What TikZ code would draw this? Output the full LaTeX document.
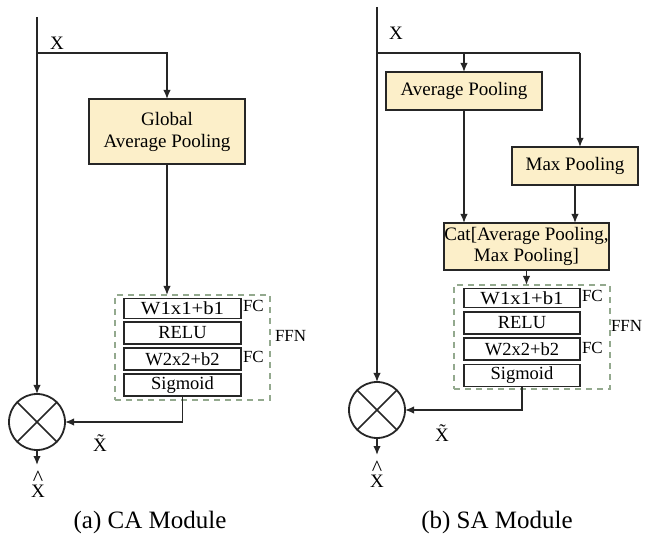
\documentclass[tikz,border=0pt]{standalone}
\usepackage{fontspec}
\setmainfont{Liberation Serif}
\usetikzlibrary{arrows.meta,calc}
\definecolor{boxfill}{HTML}{FCEFC9}
\definecolor{ffngreen}{HTML}{93A98E}
\tikzset{
  every node/.style={inner sep=0pt, outer sep=0pt},
  line/.style={line width=1.5pt, draw=black!85},
  arr/.style={line, -{Latex[length=9pt,width=7.5pt]}},
  poolbox/.style={draw=black!85, line width=1.8pt, fill=boxfill, font=\fontsize{19}{22}\selectfont, align=center},
  layerbox/.style={draw=black!85, line width=1.8pt, fill=white, font=\fontsize{18.5}{20}\selectfont},
  ffnbox/.style={draw=ffngreen, line width=1.4pt, dash pattern=on 6pt off 5pt},
  sidelabel/.style={font=\fontsize{17}{19}\selectfont, anchor=west},
  varlabel/.style={font=\fontsize{19}{21}\selectfont},
  hatx/.style={font=\fontsize{19}{21}\selectfont, anchor=base, text height=12.5pt, text depth=0pt},
  caretlabel/.style={font=\fontsize{22}{22}\selectfont, anchor=base, text height=7pt, text depth=0pt},
  caption/.style={font=\fontsize{25}{28}\selectfont},
  mult/.style={circle, draw=black!85, line width=1.8pt, minimum size=56pt}
}
\newcommand{\caretglyph}{\raisebox{-7.5pt}{\char"005E}}
\begin{document}
\begin{tikzpicture}[x=1pt,y=-1pt]
\useasboundingbox (0,0) rectangle (646,548);
% ---------------- (a) CA Module ----------------
\coordinate (atop) at (37,17);
\coordinate (abr) at (37,53);
\node[mult] (amul) at (37,422) {};
\draw[line] (amul.45) -- (amul.225);
\draw[line] (amul.135) -- (amul.315);
\node[poolbox, minimum width=156pt, minimum height=65pt] (gap) at (167,131.5) {Global\\Average Pooling};
\node[ffnbox, minimum width=155pt, minimum height=105pt] (affn) at (192.5,347.5) {};
\node[layerbox, minimum width=117pt, minimum height=20pt] (aw1) at (182.5,308.5) {\scalebox{1.12}[1]{W1x1+b1}};
\node[layerbox, minimum width=117pt, minimum height=22pt] (arelu) at (182.5,333) {RELU};
\node[layerbox, minimum width=117pt, minimum height=22pt] (aw2) at (182.5,359) {W2x2+b2};
\node[layerbox, minimum width=117pt, minimum height=22pt] (asig) at (182.5,385) {Sigmoid};
\node[sidelabel] (afc1) at (243,306) {FC};
\node[sidelabel] (afc2) at (243,357) {FC};
\node[sidelabel] (affnl) at (275,336) {FFN};
\draw[arr] (atop) -- (amul.north);
\draw[arr] (abr) -| (gap.north);
\draw[arr] (gap.south) -- (gap.south |- affn.north);
\draw[arr] (asig.south) |- (amul.east);
\coordinate (aout) at (37,465);
\draw[arr] (amul.south) -- (aout);
\node[varlabel] (ax) at (57,43) {X};
\node[varlabel] (axt) at (100,443) {\~{X}};
\node[caretlabel] (axc) at (38,478) {\caretglyph};
\node[hatx] (axh) at (38,497) {X};
\node[caption] (acap) at (150,522) {(a) CA Module};
% ---------------- (b) SA Module ----------------
\coordinate (btop) at (377,7);
\coordinate (bbr) at (377,53);
\coordinate (bcorner) at (580,53);
\node[mult] (bmul) at (377,410) {};
\draw[line] (bmul.45) -- (bmul.225);
\draw[line] (bmul.135) -- (bmul.315);
\node[poolbox, minimum width=156pt, minimum height=38pt] (avgp) at (464,91) {Average Pooling};
\node[poolbox, minimum width=126pt, minimum height=38pt] (maxp) at (575,166) {Max Pooling};
\node[poolbox, minimum width=165pt, minimum height=47pt, font=\fontsize{19}{21}\selectfont] (cat) at (526.5,246.5) {Cat[Average Pooling,\\Max Pooling]};
\node[ffnbox, minimum width=156pt, minimum height=104pt] (bffn) at (532,337) {};
\node[layerbox, minimum width=116pt, minimum height=19pt] (bw1) at (522,298) {\scalebox{1.12}[1]{W1x1+b1}};
\node[layerbox, minimum width=116pt, minimum height=22pt] (brelu) at (522,323) {RELU};
\node[layerbox, minimum width=116pt, minimum height=22pt] (bw2) at (522,349) {W2x2+b2};
\node[layerbox, minimum width=116pt, minimum height=22pt] (bsig) at (522,375.5) {Sigmoid};
\node[sidelabel] (bfc1) at (582,296) {FC};
\node[sidelabel] (bfc2) at (582,348) {FC};
\node[sidelabel] (bffnl) at (611,326) {FFN};
\draw[arr] (btop) -- (bmul.north);
\draw[line] (bbr) -- (bcorner);
\draw[arr] (avgp.north |- bbr) -- (avgp.north);
\draw[arr] (bcorner) -- (bcorner |- maxp.north);
\draw[arr] (avgp.south) -- (avgp.south |- cat.north);
\draw[arr] (maxp.south) -- (maxp.south |- cat.north);
\draw[arr] (cat.south) -- (cat.south |- bffn.north);
\draw[arr] (bsig.south) |- (bmul.east);
\coordinate (bout) at (377,455);
\draw[arr] (bmul.south) -- (bout);
\node[varlabel] (bx) at (396,33) {X};
\node[varlabel] (bxt) at (442,433) {\~{X}};
\node[caretlabel] (bxc) at (377,468) {\caretglyph};
\node[hatx] (bxh) at (377,487) {X};
\node[caption] (bcap) at (497,522) {(b) SA Module};
\end{tikzpicture}
\end{document}
